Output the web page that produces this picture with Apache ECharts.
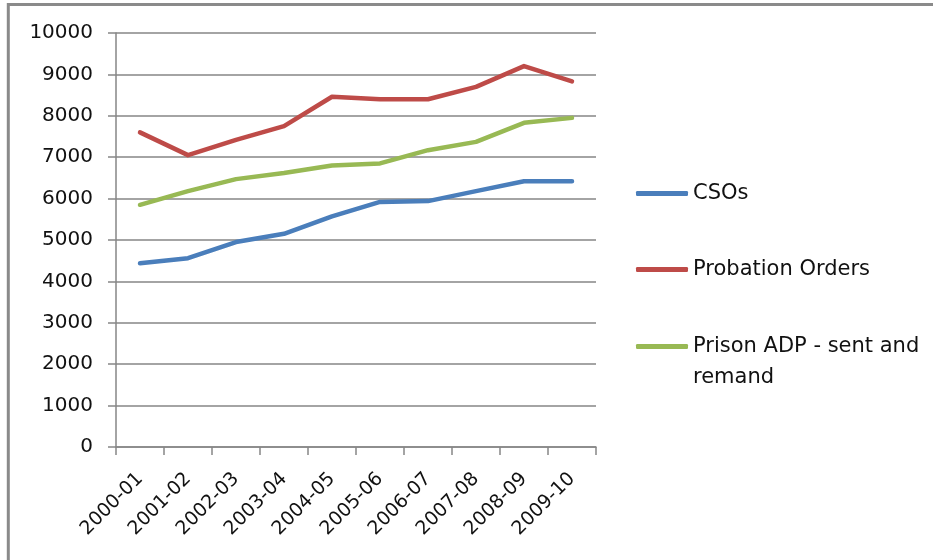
<!DOCTYPE html>
<html>
<head>
<meta charset="utf-8">
<script src="https://cdn.jsdelivr.net/npm/echarts@6/dist/echarts.min.js"></script>
<style>
  html, body { margin: 0; padding: 0; background: #fff; }
  #chart { width: 933px; height: 560px; }
</style>
</head>
<body>
<div id="chart"></div>
<script>
// Financial years on the category axis
const years = ['2000-01', '2001-02', '2002-03', '2003-04', '2004-05',
               '2005-06', '2006-07', '2007-08', '2008-09', '2009-10'];

// Annual counts per series
const csos      = [4440, 4560, 4950, 5150, 5570, 5920, 5940, 6180, 6420, 6420];
const probation = [7600, 7050, 7420, 7750, 8460, 8400, 8400, 8700, 9200, 8830];
const prisonAdp = [5850, 6180, 6470, 6620, 6800, 6850, 7170, 7370, 7830, 7950];

const seriesNames = ['CSOs', 'Probation Orders', 'Prison ADP - sent and remand'];
const seriesColors = ['#4a7ebb', '#be4b48', '#98b954'];

const FONT = 'DejaVu Sans';
const GRID_GRAY = '#868686';

const chart = echarts.init(document.getElementById('chart'), null, { renderer: 'canvas' });

function lineSeries(name, data, color) {
  return {
    name: name,
    type: 'line',
    data: data,
    symbol: 'none',
    smooth: false,
    lineStyle: { color: color, width: 4.5, cap: 'round', join: 'round' },
    itemStyle: { color: color },
    emphasis: { disabled: true }
  };
}

// One legend block per series so each entry sits at its own height.
// The wrapped entry gets a blank leading line so that its marker, which is
// centred on the text block, stays level with the first text line.
function legendAt(top, name, wrappedText) {
  return {
    orient: 'vertical',
    left: 636,
    top: top,
    padding: 0,
    data: [name],
    icon: 'roundRect',
    itemWidth: 52,
    itemHeight: 5,
    itemGap: 0,
    selectedMode: false,
    formatter: wrappedText ? wrappedText : '{name}',
    textStyle: wrappedText ? {
      fontFamily: FONT, fontSize: 21, color: '#111', lineHeight: 31
    } : {
      fontFamily: FONT, fontSize: 21, color: '#111'
    }
  };
}

chart.setOption({
  animation: false,
  backgroundColor: '#fff',
  grid: { left: 116, right: 337, top: 33, bottom: 113, containLabel: false },
  legend: [
    legendAt(183, seriesNames[0]),
    legendAt(259, seriesNames[1]),
    legendAt(300, seriesNames[2], ' \nPrison ADP - sent and\nremand')
  ],
  xAxis: {
    type: 'category',
    data: years,
    boundaryGap: true,
    axisLine: { show: true, lineStyle: { color: GRID_GRAY, width: 1.5 } },
    axisTick: { show: true, length: 8, lineStyle: { color: GRID_GRAY, width: 1.5 } },
    axisLabel: {
      rotate: 45,
      interval: 0,
      align: 'right',
      verticalAlign: 'middle',
      margin: 29,
      fontFamily: FONT,
      fontSize: 19,
      color: '#111'
    },
    splitLine: { show: false }
  },
  yAxis: {
    type: 'value',
    min: 0,
    max: 10000,
    interval: 1000,
    axisLine: { show: true, lineStyle: { color: GRID_GRAY, width: 1.5 } },
    axisTick: { show: true, length: 8, lineStyle: { color: GRID_GRAY, width: 1.5 } },
    axisLabel: {
      margin: 23,
      fontFamily: FONT,
      fontSize: 20,
      color: '#111',
      formatter: function (v) { return String(v); }
    },
    splitLine: { show: true, lineStyle: { color: GRID_GRAY, width: 1.5 } }
  },
  series: [
    lineSeries(seriesNames[0], csos, seriesColors[0]),
    lineSeries(seriesNames[1], probation, seriesColors[1]),
    lineSeries(seriesNames[2], prisonAdp, seriesColors[2])
  ],
  graphic: [
    {
      type: 'rect',
      silent: true,
      shape: { x: 8.3, y: 4.5, width: 1200, height: 1200 },
      style: { fill: null, stroke: '#8a8a8a', lineWidth: 3 }
    }
  ]
});
</script>
</body>
</html>
